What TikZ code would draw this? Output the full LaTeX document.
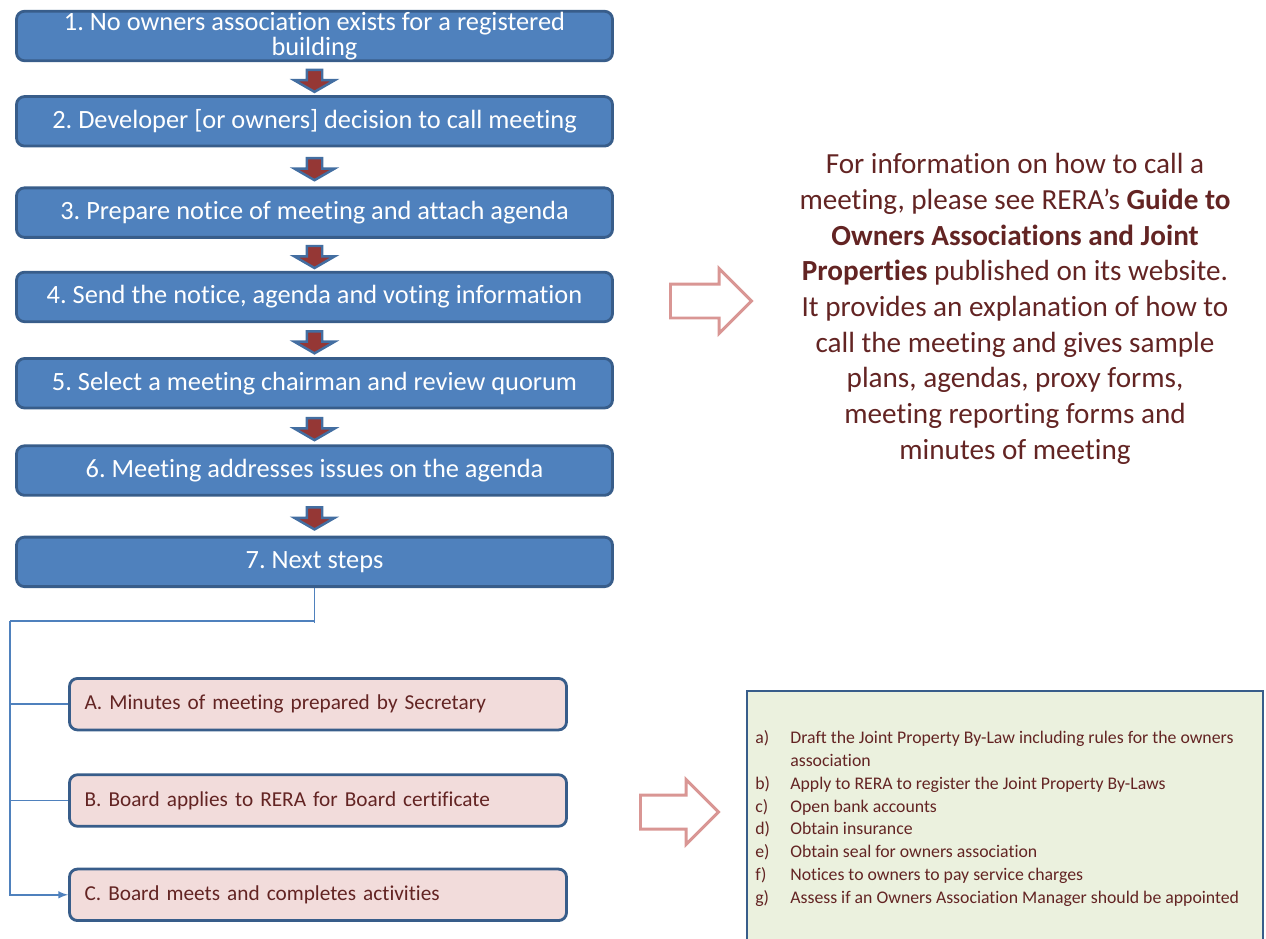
\documentclass[tikz,border=0pt]{standalone}
\usepackage{fontspec}
\setmainfont{Carlito}[Ligatures={TeX,NoCommon}]
\usepackage{tikz}
\usetikzlibrary{shapes,arrows}
\usetikzlibrary{positioning}
\frenchspacing
\definecolor{stepblue}{HTML}{4F81BD}
\definecolor{stepedge}{HTML}{385D8A}
\definecolor{arrowred}{HTML}{953735}
\definecolor{darkred}{HTML}{632423}
\definecolor{subpink}{HTML}{F2DCDB}
\definecolor{hollowpink}{HTML}{D99694}
\definecolor{notegreen}{HTML}{EBF1DE}
\tikzset{>=latex, node distance=0.7cm}
\tikzstyle{stepbox} = [draw=stepedge, fill=stepblue, rectangle, line width=1.6pt, rounded corners=0.16cm, minimum height=0.99cm, minimum width=11.92cm, inner sep=0pt, text=white, align=center, font=\fontsize{15}{14.2}\selectfont]
\tikzstyle{subbox} = [draw=stepedge, fill=subpink, rectangle, line width=1.6pt, rounded corners=0.16cm, minimum height=1.03cm, text width=9.34cm, inner xsep=0.3cm, inner ysep=0pt, align=left, text=darkred, font=\fontsize{12.1}{14}\selectfont]
\tikzstyle{downarrow} = [single arrow, rotate=-90, draw=stepblue!85!black, fill=arrowred, line width=1.4pt, minimum height=0.44cm, inner xsep=0pt, inner ysep=0.13cm, single arrow head extend=0.25cm, single arrow tip angle=120]
\tikzstyle{hollowarrow} = [single arrow, anchor=tail, draw=hollowpink, fill=white, line width=1.7pt, minimum height=1.62cm, inner xsep=0pt, inner ysep=0.31cm, single arrow head extend=0.31cm]
\tikzstyle{infotext} = [align=center, text=darkred, inner sep=0pt, font=\fontsize{16.6}{20.3}\selectfont]
\tikzstyle{notebox} = [draw=stepedge, fill=notegreen, rectangle, line width=1.1pt, minimum width=10.32cm, minimum height=5.2cm, inner sep=0pt]
\tikzstyle{listtext} = [align=left, text=darkred, inner sep=0pt, font=\fontsize{10.1}{13}\selectfont]
\tikzstyle{link} = [draw=stepblue, line width=0.9pt]
\newcommand{\lstitem}[2]{\makebox[0.7cm][l]{#1}#2}

\begin{document}
\begin{tikzpicture}
		\useasboundingbox (0,0) rectangle (25.32,-18.76);

		% main steps
		\node [stepbox] (step1) at (6.29,-0.72) {1. No owners association exists for a registered\\building};
		\node [stepbox, below=0.66cm of step1] (step2) {2. Developer [or owners] decision to call meeting};
		\node [stepbox, below=0.78cm of step2] (step3) {3. Prepare notice of meeting and attach agenda};
		\node [stepbox, below=0.64cm of step3] (step4) {4. Send the notice, agenda and voting information};
		\node [stepbox, below=0.68cm of step4] (step5) {5. Select a meeting chairman and review quorum};
		\node [stepbox, below=0.70cm of step5] (step6) {6. Meeting addresses issues on the agenda};
		\node [stepbox, below=0.78cm of step6] (step7) {7. Next steps};

		\foreach \a/\b in {1/2,2/3,3/4,4/5,5/6,6/7}
			\path (step\a.south) -- node [downarrow] {} (step\b.north);

		% next steps
		\node [subbox, below=1.78cm of step7, xshift=0.07cm] (subA) {A. Minutes of meeting prepared by Secretary};
		\node [subbox, below=0.84cm of subA] (subB) {B. Board applies to RERA for Board certificate};
		\node [subbox, below=0.80cm of subB] (subC) {C. Board meets and completes activities};

		\coordinate (bus) at (0.2,-12.42);
		\draw [link] (step7.south) -- ++(0,-0.7);
		\draw [link] (step7.south |- bus) -- (bus);
		\draw [link, ->] (bus) |- (subC);
		\draw [link] (bus |- subA) -- (subA);
		\draw [link] (bus |- subB) -- (subB);

		% notes on the right
		\node [hollowarrow] (info_arrow) at (13.38,-6.02) {};
		\node [infotext] (info) at (20.3,-6.18) {For information on how to call a\\meeting, please see RERA’s \textbf{Guide to}\\\textbf{Owners Associations and Joint}\\\textbf{Properties} published on its website.\\It provides an explanation of how to\\call the meeting and gives sample\\plans, agendas, proxy forms,\\meeting reporting forms and\\minutes of meeting};

		\node [hollowarrow, minimum height=1.56cm] (list_arrow) at (12.78,-16.24) {};
		\node [notebox, anchor=north west] (note) at (14.92,-13.8) {};
		\node [listtext, anchor=west] (steps) at (15.1,-16.37) {\lstitem{a)}{Draft the Joint Property By-Law including rules for the owners}\\\lstitem{}{association}\\\lstitem{b)}{Apply to RERA to register the Joint Property By-Laws}\\\lstitem{c)}{Open bank accounts}\\\lstitem{d)}{Obtain insurance}\\\lstitem{e)}{Obtain seal for owners association}\\\lstitem{f)}{Notices to owners to pay service charges}\\\lstitem{g)}{Assess if an Owners Association Manager should be appointed}};
	\end{tikzpicture}
\end{document}
